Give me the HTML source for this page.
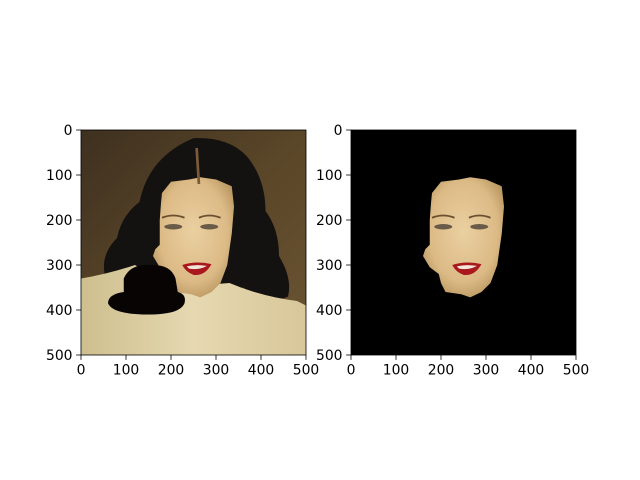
<!DOCTYPE html>
<html><head><meta charset="utf-8"><style>
html,body{margin:0;padding:0;background:#fff;}
svg{display:block;font-family:"DejaVu Sans","Liberation Sans",sans-serif;}
</style></head><body>
<svg id="fig" width="640" height="480" viewBox="0 0 640 480">
<defs>
<clipPath id="c1"><rect x="0" y="0" width="500" height="500"/></clipPath>
<linearGradient id="bg" x1="0" y1="0" x2="1" y2="1">
<stop offset="0" stop-color="#3e3020"/><stop offset="0.5" stop-color="#5a4628"/><stop offset="1" stop-color="#6a5432"/></linearGradient>
<linearGradient id="fur" x1="0" y1="0" x2="1" y2="0">
<stop offset="0" stop-color="#cdbf8e"/><stop offset="0.5" stop-color="#e6d8b0"/><stop offset="1" stop-color="#d8c79a"/></linearGradient>
<radialGradient id="skin" cx="0.5" cy="0.45" r="0.6">
<stop offset="0" stop-color="#ead0a0"/><stop offset="0.7" stop-color="#dcba86"/><stop offset="1" stop-color="#b8955e"/></radialGradient>
<g id="face">
<polygon points="180,140 200,115 240,110 265,105 300,110 335,125 340,170 335,230 325,300 310,340 290,360 265,372 245,365 210,360 200,340 195,320 175,305 160,280 165,265 175,255 175,200 178,160" fill="url(#skin)"/>
<ellipse cx="205" cy="215" rx="20" ry="6" fill="#6a5a48"/>
<ellipse cx="285" cy="215" rx="20" ry="6" fill="#6a5a48"/>
<path d="M180,195 Q205,185 230,195" stroke="#6a5030" stroke-width="4" fill="none"/>
<path d="M262,195 Q285,185 310,195" stroke="#6a5030" stroke-width="4" fill="none"/>
<path d="M225,300 Q255,290 290,298 Q275,325 250,322 Q232,315 225,300 Z" fill="#a8181c"/>
<path d="M235,303 Q255,298 280,302 Q262,312 240,308 Z" fill="#f2e6da"/>
</g>
</defs>

<g transform="translate(81,130) scale(0.45)" clip-path="url(#c1)">
<rect x="0" y="0" width="500" height="500" fill="url(#bg)"/>
<path d="M250,18 Q330,15 370,60 Q410,110 410,180 Q440,220 440,280 Q470,330 460,370 Q420,390 360,350 L300,360 L150,340 Q90,360 55,330 Q40,280 80,240 Q90,190 130,160 Q150,60 250,18 Z" fill="#141210"/>
<path d="M0,330 Q60,320 120,300 L200,350 L330,340 Q400,370 480,380 L500,390 L500,500 L0,500 Z" fill="url(#fur)"/>
<use href="#face"/>
<path d="M257,40 L262,120" stroke="#7a5a38" stroke-width="6"/>
<path d="M95,330 Q110,295 160,300 Q200,300 210,330 L215,360 Q235,365 230,385 Q220,410 150,410 Q70,410 60,385 Q60,365 95,360 Z" fill="#080404"/>
</g>
<rect x="81" y="130" width="225" height="225" fill="none" stroke="#000" stroke-width="0.8"/>

<g transform="translate(351,130) scale(0.45)" clip-path="url(#c1)">
<rect x="0" y="0" width="500" height="500" fill="#000"/>
<use href="#face"/>
</g>
<rect x="351" y="130" width="225" height="225" fill="none" stroke="#000" stroke-width="0.8"/>
<g id="ticks"></g>
</svg>
<script>
const xTicks=[0,100,200,300,400,500];
const yTicks=[0,100,200,300,400,500];
const axesLeft=[81,351];
const top0=130, size=225, domainMax=500;
const ns="http://www.w3.org/2000/svg";
const g=document.getElementById('ticks');
function sx(x0,v){return x0+v/domainMax*size;}
function sy(v){return top0+v/domainMax*size;}
function mk(tag,attrs){const e=document.createElementNS(ns,tag);for(const k in attrs)e.setAttribute(k,attrs[k]);g.appendChild(e);return e;}
axesLeft.forEach((x0,ai)=>{
  xTicks.forEach(v=>{
    const X=sx(x0,v);
    const l=mk('line',{x1:X,x2:X,y1:top0+size,y2:top0+size+4.9,stroke:'#000','stroke-width':0.8});
    
    
    const t=mk('text',{x:X,y:top0+size+19.5,'text-anchor':'middle','font-size':13.9});
    t.textContent=v;
    
    
  });
  yTicks.forEach(v=>{
    const Y=sy(v);
    const l=mk('line',{x1:x0-4.9,x2:x0,y1:Y,y2:Y,stroke:'#000','stroke-width':0.8});
    
    
    const t=mk('text',{x:x0-8.5,y:Y+5,'text-anchor':'end','font-size':13.9});
    t.textContent=v;
    
    
  });
});
</script>
</body></html>
